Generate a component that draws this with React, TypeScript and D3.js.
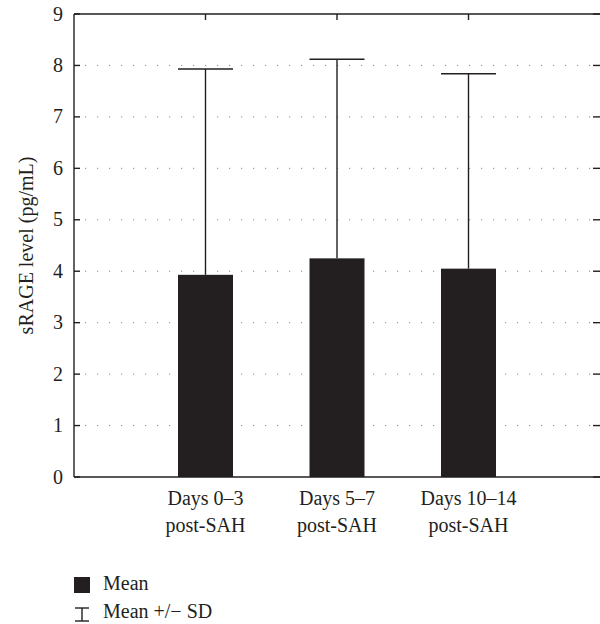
import * as d3 from 'd3'

const categories = ['Days 0–3|post-SAH', 'Days 5–7|post-SAH', 'Days 10–14|post-SAH']
const means = [3.93, 4.25, 4.05]
const upperSD = [7.93, 8.12, 7.84]
const yTicks = [0, 1, 2, 3, 4, 5, 6, 7, 8, 9]

export default function App() {
  const width = 600
  const height = 624
  const left = 74
  const right = 600
  const top = 14
  const bottom = 477
  const ink = '#231f20'
  const font = 'Liberation Serif'
  const fs = 20

  const x = d3.scalePoint<string>().domain(categories).range([left, right]).padding(1)
  const y = d3.scaleLinear().domain([0, 9]).range([bottom, top])
  const barW = 55

  return (
    <svg width={width} height={height} style={{ position: 'absolute', left: 0, top: 0 }}>
      {/* dotted gridlines */}
      {yTicks.filter(t => t > 0 && t < 9).map(t => (
        <line key={'g' + t} x1={left} x2={right} y1={y(t)} y2={y(t)}
          stroke="#8a8a8a" strokeWidth={1} strokeDasharray="1.2,10.8" strokeDashoffset={-11} />
      ))}
      {/* bars */}
      {categories.map((c, i) => (
        <rect key={'b' + i} x={x(c)! - barW / 2} y={y(means[i])} width={barW}
          height={y(0) - y(means[i])} fill={ink} />
      ))}
      {/* error bars */}
      {categories.map((c, i) => (
        <g key={'e' + i} stroke={ink} strokeWidth={1.4}>
          <line x1={x(c)!} x2={x(c)!} y1={y(means[i])} y2={y(upperSD[i])} />
          <line x1={x(c)! - barW / 2} x2={x(c)! + barW / 2} y1={y(upperSD[i])} y2={y(upperSD[i])} />
        </g>
      ))}
      {/* axes frame */}
      <g stroke={ink} strokeWidth={1.4} fill="none">
        <line x1={left} x2={left} y1={top} y2={bottom} />
        <line x1={left} x2={right} y1={bottom} y2={bottom} />
        <line x1={left} x2={right} y1={top} y2={top} />
        {yTicks.map(t => (
          <g key={'t' + t}>
            <line x1={left} x2={left + 6} y1={y(t)} y2={y(t)} />
            <line x1={right - 7} x2={right} y1={y(t)} y2={y(t)} />
          </g>
        ))}
        {categories.map(c => (
          <line key={'tt' + c} x1={x(c)!} x2={x(c)!} y1={top} y2={top + 6} />
        ))}
      </g>
      {/* y tick labels */}
      <g fontFamily={font} fontSize={fs} fill={ink} textAnchor="end">
        {yTicks.map(t => (
          <text key={'l' + t} x={63} y={y(t)} dy="0.33em">{t}</text>
        ))}
      </g>
      {/* x labels */}
      <g fontFamily={font} fontSize={fs} fill={ink} textAnchor="middle">
        {categories.map(c => {
          const [a, b] = c.split('|')
          return (
            <text key={'x' + c} x={x(c)!} y={505}>
              <tspan x={x(c)!}>{a}</tspan>
              <tspan x={x(c)!} dy={27}>{b}</tspan>
            </text>
          )
        })}
      </g>
      <text transform={`translate(26,${(top + bottom) / 2}) rotate(-90)`} textAnchor="middle"
        fontFamily={font} fontSize={fs} fill={ink} dy="0.35em">sRAGE level (pg/mL)</text>
      {/* legend */}
      <rect x={74} y={577} width={16} height={16} fill={ink} />
      <text x={103} y={590} fontFamily={font} fontSize={fs} fill={ink}>Mean</text>
      <g stroke={ink} strokeWidth={1.4}>
        <line x1={75} x2={89} y1={608} y2={608} />
        <line x1={82} x2={82} y1={608} y2={621} />
        <line x1={75} x2={89} y1={621} y2={621} />
      </g>
      <text x={103} y={618} fontFamily={font} fontSize={fs} fill={ink}>Mean +/− SD</text>
    </svg>
  )
}
